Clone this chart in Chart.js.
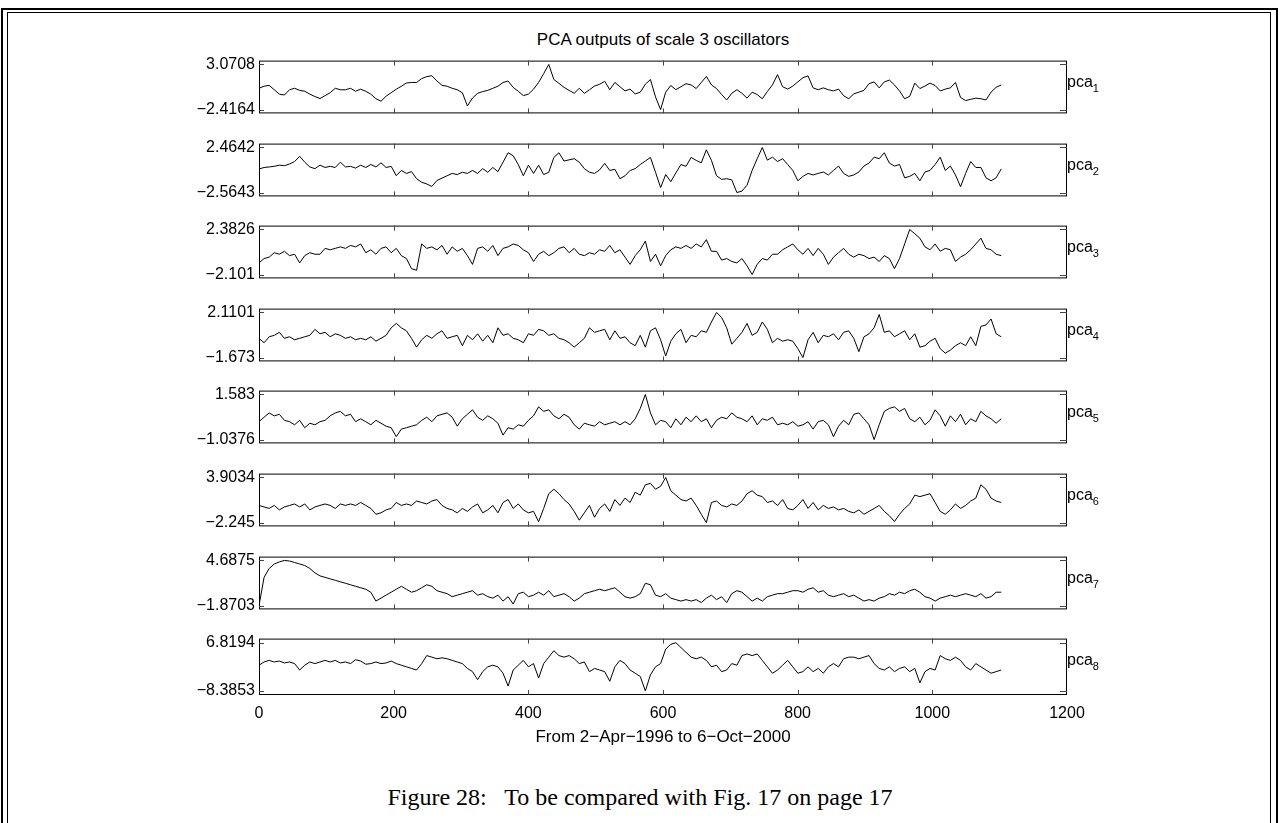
<!DOCTYPE html>
<html>
<head>
<meta charset="utf-8">
<title>PCA outputs of scale 3 oscillators</title>
<script src="https://cdn.jsdelivr.net/npm/chart.js@4.4.0/dist/chart.umd.min.js"></script>
<style>
  html, body { margin: 0; padding: 0; background: #fff; }
  body { width: 1280px; height: 823px; position: relative; overflow: hidden;
         font-family: "Liberation Sans", Arial, Helvetica, sans-serif; color: #000; }
  canvas { position: absolute; }
  .frame-outer { position: absolute; left: 1px; top: 8px; width: 1273px; height: 900px; border: 2px solid #000; }
  .frame-inner { position: absolute; left: 7px; top: 12px; width: 1262px; height: 900px; border: 1px solid #000; }
  .title { position: absolute; left: 259px; width: 808px; top: 30px; text-align: center; font-size: 17px; }
  .lab { position: absolute; left: 1067px; font-size: 16px; line-height: 16px; white-space: nowrap; }
  .lab sub { font-size: 11px; vertical-align: baseline; position: relative; top: 5px; }
  .caption { position: absolute; left: 0; width: 1280px; top: 784px; text-align: center;
             font-family: "Liberation Serif", "DejaVu Serif", serif; font-size: 24px; }
</style>
</head>
<body>
<div class="frame-outer"></div>
<div class="frame-inner"></div>
<div class="title">PCA outputs of scale 3 oscillators</div>
<div class="caption">Figure 28:&nbsp;&nbsp; To be compared with Fig. 17 on page 17</div>
<script>
// series, one value every ~7.5 trading days
const dayStep = 7.55;
const xTicks = [0, 200, 400, 600, 800, 1000, 1200];
const xLabel = 'From 2\u2212Apr\u22121996 to 6\u2212Oct\u22122000';
const panelNames = ['1', '2', '3', '4', '5', '6', '7', '8'];

const yMax = [3.0708, 2.4642, 2.3826, 2.1101, 1.583, 3.9034, 4.6875, 6.8194];
const yMin = [-2.4164, -2.5643, -2.101, -1.673, -1.0376, -2.245, -1.8703, -8.3853];
const yMaxText = ['3.0708', '2.4642', '2.3826', '2.1101', '1.583', '3.9034', '4.6875', '6.8194'];
const yMinText = ['\u22122.4164', '\u22122.5643', '\u22122.101', '\u22121.673', '\u22121.0376', '\u22122.245', '\u22121.8703', '\u22128.3853'];

const pca1 = [0.17,0.42,0.53,-0.01,-0.54,-0.65,-0.01,0.17,-0.08,-0.19,
  -0.54,-0.83,-1.08,-0.72,-0.37,0.17,-0.01,-0.01,0.17,-0.19,
  0.06,-0.19,-0.54,-1.10,-1.40,-0.79,-0.37,0.06,0.42,0.81,
  0.88,0.88,1.35,1.59,1.70,1.06,0.53,0.42,0.17,-0.01,
  -0.37,-1.98,-1.01,-0.44,-0.23,-0.08,0.17,0.42,0.88,1.06,
  0.28,-0.19,-0.72,-0.54,0.06,0.88,1.95,3.07,1.24,0.77,
  0.28,-0.08,-0.44,0.17,-0.44,-0.01,0.44,0.66,1.02,0.00,
  0.88,0.36,-0.15,0.07,-0.51,-0.30,0.66,1.24,-0.88,-2.42,
  -0.30,0.51,0.00,0.36,0.73,0.58,0.14,0.88,1.61,0.58,
  0.14,-0.59,-1.25,-0.44,0.00,-0.44,-1.03,-0.30,-0.59,-1.10,
  -0.22,0.58,1.83,0.36,0.07,0.44,0.95,1.46,1.68,0.22,
  0.00,0.22,0.00,-0.15,0.07,-0.73,-1.10,-0.51,-0.30,-0.08,
  0.73,0.95,0.22,0.95,1.17,0.58,-0.15,-1.10,-0.81,0.80,
  0.14,0.44,0.80,0.51,-0.15,0.07,0.22,0.88,-0.95,-1.32,
  -1.17,-1.03,-1.10,-1.25,-0.30,0.29,0.58];

const pca2 = [0.06,0.23,0.29,0.36,0.49,0.43,0.62,0.89,1.48,0.82,
  0.29,0.10,0.49,0.23,0.36,0.23,0.82,0.29,0.36,0.16,
  0.49,0.23,0.56,0.29,0.75,0.23,0.36,-0.69,-0.10,-0.43,
  -0.23,-1.02,-1.42,-1.61,-1.88,-1.22,-0.96,-0.69,-0.43,-0.56,
  -0.30,-0.43,-0.10,-0.43,0.10,-0.30,0.23,-0.23,0.82,1.87,
  1.54,0.56,-0.69,0.49,-0.43,0.49,-0.56,-0.30,1.35,1.87,
  0.95,1.08,1.21,0.82,0.10,-0.30,-0.43,-0.04,0.69,-0.10,
  0.03,-1.02,-0.69,-0.10,0.10,0.56,0.95,1.35,-0.30,-2.01,
  -0.56,-1.35,-0.37,0.56,0.36,1.35,1.02,0.75,2.20,1.02,
  -0.69,-1.09,-1.02,-1.15,-2.56,-2.40,-1.75,-0.10,1.21,2.46,
  1.05,1.38,0.89,1.21,0.56,-0.10,-1.25,-0.76,-0.43,-0.60,
  -0.43,-0.27,-0.60,-0.10,0.39,-0.43,-0.76,-0.60,-0.27,0.39,
  0.72,1.38,1.21,1.87,0.72,0.39,0.56,-0.92,-0.76,-0.43,
  -1.25,-0.27,-0.10,0.56,1.38,-0.10,0.39,-0.60,-1.91,-0.43,
  0.89,0.23,0.23,-0.92,-1.25,-0.92,0.06];

const pca3 = [-0.94,-0.51,-0.37,0.07,-0.08,0.21,-0.22,-0.08,-0.94,-0.22,
  0.07,-0.08,-0.08,0.50,0.36,0.50,0.65,0.50,0.79,0.65,
  0.94,0.07,0.36,-0.08,0.50,0.65,0.07,0.50,-0.22,-0.51,
  -1.52,-1.67,0.94,0.50,0.65,0.36,0.79,-0.08,0.65,0.21,
  0.50,-0.22,-1.09,0.50,0.65,0.21,0.79,-0.22,0.50,0.65,
  0.94,0.79,0.36,0.07,-0.80,-0.08,0.21,-0.22,0.07,0.50,
  0.65,0.07,0.50,-0.08,-0.22,0.07,-0.08,0.36,0.21,0.79,
  0.07,0.36,-0.37,-1.09,-0.22,0.36,1.23,-0.80,-0.08,-1.23,
  -0.22,0.36,0.65,0.50,0.79,0.50,0.94,0.65,1.37,0.21,
  0.21,-0.66,-0.51,-0.80,-0.94,-0.51,-1.23,-2.10,-1.09,-0.51,
  -0.66,-0.08,-0.08,0.36,0.65,0.94,0.36,-0.08,0.50,-0.22,
  0.50,-0.08,-1.09,-0.37,0.07,0.50,-0.08,-0.37,-0.08,-0.22,
  -0.51,-0.37,-0.80,-0.22,-0.51,-1.52,-0.51,0.94,2.38,1.95,
  1.51,0.65,0.36,0.94,0.21,0.50,0.36,-0.80,-0.37,-0.08,
  0.36,0.94,1.51,0.50,0.36,-0.08,-0.22];

const pca4 = [-0.06,-0.43,0.07,0.19,0.44,-0.06,0.07,-0.18,-0.06,0.07,
  0.19,0.69,0.32,0.44,0.07,0.32,0.19,-0.06,0.07,-0.18,
  -0.06,-0.18,0.07,-0.30,-0.06,0.19,0.82,1.19,0.82,0.57,
  -0.06,-0.80,-0.18,0.19,-0.06,0.32,0.57,-0.06,0.07,0.19,
  -0.68,0.19,-0.18,0.32,-0.30,0.19,-0.43,0.82,0.19,0.32,
  -0.06,-0.18,-0.43,0.32,0.19,0.69,0.57,0.19,0.32,-0.06,
  -0.18,-0.43,-0.80,-0.43,-0.06,0.82,0.44,0.57,0.69,-0.18,
  0.57,-0.06,0.07,-0.43,-0.68,0.19,-0.80,0.57,0.82,-0.18,
  -1.55,-0.30,0.32,0.69,-0.43,0.19,0.07,0.57,0.44,1.31,
  2.11,1.69,0.82,-0.55,-0.06,0.44,1.19,0.19,0.44,1.31,
  0.69,-0.43,-0.06,-0.30,-0.18,-0.30,-0.93,-1.67,-0.18,0.44,
  -0.43,0.19,0.07,0.32,-0.18,0.44,0.57,-0.06,-1.18,0.07,
  0.32,0.82,1.94,0.44,0.57,0.07,0.32,0.57,-0.18,0.32,
  -0.80,-0.68,-0.30,-0.06,-0.93,-1.30,-1.05,-0.68,-0.43,-0.68,
  0.07,-0.68,0.94,1.06,1.56,0.32,0.07];

const pca5 = [0.00,0.26,0.51,0.34,0.43,0.08,0.00,-0.18,0.08,-0.35,
  -0.09,-0.18,0.00,0.08,0.34,0.51,0.60,0.34,0.43,0.00,
  0.17,0.00,-0.18,0.08,-0.09,-0.26,-0.35,-0.87,-0.43,-0.35,
  -0.26,-0.18,0.08,0.26,0.00,0.34,0.43,0.51,0.26,-0.26,
  0.17,0.43,0.69,0.26,0.08,0.34,0.17,-0.09,-0.78,-0.35,
  -0.43,-0.18,-0.26,0.08,0.34,0.86,0.60,0.69,0.34,0.17,
  0.43,0.26,-0.18,-0.43,-0.09,-0.18,-0.26,0.00,-0.18,-0.09,
  0.00,-0.18,0.00,-0.18,0.17,0.77,1.58,0.51,-0.18,0.08,
  0.00,-0.35,0.17,-0.18,0.26,0.00,0.34,0.00,0.17,-0.35,
  0.08,0.26,0.17,0.51,0.26,0.17,0.00,0.34,-0.18,0.17,
  0.08,0.26,-0.18,-0.09,-0.18,0.00,-0.26,-0.18,0.00,-0.43,
  0.00,0.08,-0.18,-0.87,-0.26,0.08,-0.18,0.43,0.51,0.17,
  -0.18,-1.04,-0.18,0.60,0.77,0.86,0.60,0.77,0.17,0.00,
  0.26,-0.18,0.08,0.69,0.34,-0.26,0.34,0.00,0.43,-0.18,
  0.17,0.00,0.60,0.34,0.17,-0.09,0.17];

const pca6 = [0.09,-0.12,-0.32,0.09,-0.52,-0.12,0.09,0.29,-0.12,0.29,
  -0.52,-0.12,0.09,0.29,0.09,-0.32,0.29,0.09,0.29,0.09,
  0.49,0.09,-0.32,-1.12,-0.92,-0.52,-0.32,0.49,0.09,0.29,
  0.09,0.69,0.49,0.29,0.69,0.89,0.09,-0.32,-0.52,-0.92,
  -0.32,-0.72,-0.12,0.29,-0.92,-0.52,0.09,-0.92,0.49,0.89,
  -0.32,0.29,-0.52,-0.92,-0.72,-2.13,-0.32,1.69,2.30,1.69,
  0.89,0.29,-0.72,-1.92,-0.92,0.09,-1.52,-0.32,0.29,-0.72,
  0.89,0.09,1.09,0.49,1.89,1.49,2.90,3.10,2.30,2.70,
  3.90,2.09,1.49,0.89,0.69,1.09,0.09,-1.12,-2.25,0.49,
  0.69,0.09,-0.12,0.29,0.09,0.69,1.69,2.09,1.49,1.29,
  0.49,0.69,0.09,0.89,-0.32,-0.52,0.09,0.89,-0.32,0.49,
  -0.52,0.09,-0.32,-0.12,-0.52,-0.32,-0.72,-0.92,-0.52,-1.12,
  -0.72,-0.32,0.09,-0.72,-1.32,-2.10,-1.12,-0.32,0.29,1.49,
  1.29,1.49,1.69,0.49,-0.72,-1.12,-0.52,0.29,-0.32,0.09,
  0.69,1.09,2.90,2.30,1.09,0.69,0.49];

const pca7 = [-1.87,2.23,3.52,4.17,4.47,4.69,4.60,4.39,4.17,3.95,
  3.52,2.88,2.44,2.23,2.01,1.80,1.58,1.37,1.15,0.93,
  0.72,0.50,0.07,-1.22,-0.79,-0.36,0.07,0.50,0.93,0.50,
  0.07,0.29,0.72,1.15,0.93,0.29,0.07,-0.14,-0.58,-0.36,
  -0.14,0.07,0.29,-0.36,-0.14,-0.58,-0.79,-0.36,-1.22,-0.58,
  -1.65,-0.14,0.07,-0.58,-0.36,0.07,-0.36,0.29,-0.58,-0.36,
  -0.14,-0.58,-1.22,-0.79,-0.14,0.07,0.29,0.50,0.29,0.50,
  0.72,0.07,-0.58,-0.79,-0.58,-0.14,1.37,1.15,-0.36,-0.58,
  -0.14,-0.79,-1.01,-1.22,-1.01,-1.22,-1.01,-1.44,-0.79,-0.36,
  -1.01,-0.58,-1.44,-0.14,0.29,0.07,-0.58,-1.22,-0.79,-1.22,
  -0.58,-0.36,-0.14,-0.14,0.07,0.29,0.29,0.07,0.50,0.72,
  0.07,0.29,-0.36,-0.58,-0.36,-0.14,-0.58,-0.36,-0.79,-1.22,
  -1.01,-1.22,-0.79,-0.58,-0.14,-0.36,0.07,-0.14,0.29,0.50,
  0.07,-0.58,-0.79,-1.22,-0.79,-0.58,-0.36,-0.58,-0.36,-0.14,
  -0.36,-0.58,-0.14,-0.79,-0.58,0.07,0.07];

const pca8 = [-0.28,0.74,1.24,0.74,1.04,0.43,0.74,0.23,-1.80,-0.28,
  0.74,0.23,0.74,1.24,0.74,1.24,0.43,0.74,0.23,1.45,
  1.04,0.03,0.23,0.74,0.23,0.43,1.04,0.23,-0.28,-0.79,
  -1.29,-1.80,0.23,2.76,2.26,1.75,2.05,1.75,1.24,0.74,
  0.23,-1.29,-2.31,-4.84,-2.31,-0.79,-0.28,-0.79,-2.81,-6.87,
  -1.80,-0.28,1.24,-0.79,0.23,-4.33,0.23,2.26,4.29,2.76,
  2.26,2.76,1.75,0.23,0.74,-2.31,-1.29,-1.80,-2.31,-5.35,
  -0.79,1.24,0.23,-1.80,-2.81,-3.83,-8.39,-3.32,-0.79,0.23,
  4.79,6.31,6.82,5.30,3.78,2.26,1.75,2.26,1.24,-0.79,
  -0.28,-2.31,-1.80,0.23,-0.28,2.76,3.27,2.76,3.27,1.24,
  -0.79,-2.81,-1.80,-0.28,1.24,-0.79,-2.81,-2.31,-0.79,-2.31,
  -1.29,-2.81,-0.79,0.23,-0.79,1.75,2.26,2.26,1.75,2.26,
  2.76,0.23,-1.29,-1.80,-0.79,-2.31,-1.29,-0.79,-2.31,-1.29,
  -5.86,-2.31,-1.29,-1.80,2.76,1.75,1.24,2.26,1.24,-0.79,
  -1.80,0.23,-0.79,-1.80,-2.81,-2.31,-1.80];

const series = [pca1, pca2, pca3, pca4, pca5, pca6, pca7, pca8];

// layout: top edge of each axes box (px), boxes are 60px tall, 808px wide
const panelTops = [57, 140, 222, 305, 387, 470, 553, 635];
const canvasLeft = 150, canvasW = 980, yAxisW = 109, rightPad = 63;

Chart.defaults.font.family = '"Liberation Sans", Arial, Helvetica, sans-serif';
Chart.defaults.color = '#000';

// matlab style box with inward ticks on all four sides
const boxPlugin = {
  id: 'matlabBox',
  afterDraw(chart) {
    const { ctx, chartArea: a, scales: { x, y } } = chart;
    ctx.save();
    ctx.lineWidth = 1;
    ctx.strokeStyle = '#000';
    ctx.strokeRect(a.left + 0.5, a.top + 0.5, a.right - a.left - 1, a.bottom - a.top - 1);
    ctx.strokeStyle = '#444';
    ctx.beginPath();
    y.ticks.forEach(t => {
      const py = Math.round(y.getPixelForValue(t.value)) + 0.5;
      ctx.moveTo(a.left, py); ctx.lineTo(a.left + 5, py);
      ctx.moveTo(a.right, py); ctx.lineTo(a.right - 7, py);
    });
    x.ticks.forEach(t => {
      if (t.value <= xTicks[0] || t.value >= xTicks[xTicks.length - 1]) return;
      const px = Math.round(x.getPixelForValue(t.value)) + 0.5;
      ctx.moveTo(px, a.top); ctx.lineTo(px, a.top + 5);
      ctx.moveTo(px, a.bottom); ctx.lineTo(px, a.bottom - 5);
    });
    ctx.stroke();
    ctx.restore();
  }
};

series.forEach((vals, i) => {
  const last = i === series.length - 1;
  const h = last ? 130 : 80;
  const cv = document.createElement('canvas');
  cv.width = canvasW; cv.height = h;
  cv.style.left = canvasLeft + 'px';
  cv.style.top = (panelTops[i] - 10) + 'px';
  document.body.appendChild(cv);

  const span = yMax[i] - yMin[i];
  const pts = vals.map((v, k) => ({ x: k * dayStep, y: v }));

  new Chart(cv, {
    type: 'line',
    data: { datasets: [{ data: pts, borderColor: '#000', borderWidth: 1, pointRadius: 0, tension: 0, fill: false }] },
    options: {
      responsive: false, animation: false, devicePixelRatio: 1,
      layout: { padding: { top: 10, right: rightPad, bottom: 0, left: 0 } },
      plugins: { legend: { display: false }, tooltip: { enabled: false } },
      scales: {
        x: {
          type: 'linear', min: xTicks[0], max: xTicks[xTicks.length - 1],
          grid: { display: false, drawTicks: false }, border: { display: false },
          afterBuildTicks: s => { s.ticks = xTicks.map(v => ({ value: v })); },
          ticks: { display: last, padding: 9, maxRotation: 0, autoSkip: false, font: { size: 16 },
                   callback: v => String(v) },
          title: { display: last, text: xLabel, font: { size: 17 }, padding: { top: 0, bottom: 7 } },
          afterFit: s => { s.height = last ? 60 : 10; }
        },
        y: {
          min: yMin[i] - span * 0.085, max: yMax[i] + span * 0.085,
          grid: { display: false, drawTicks: false }, border: { display: false },
          afterBuildTicks: s => { s.ticks = [{ value: yMin[i] }, { value: yMax[i] }]; },
          ticks: {
            padding: 4, autoSkip: false, font: { size: 16 },
            callback: v => v === yMax[i] ? yMaxText[i] : (v === yMin[i] ? yMinText[i] : '')
          },
          afterFit: s => { s.width = yAxisW; }
        }
      }
    },
    plugins: [boxPlugin]
  });

  const lab = document.createElement('div');
  lab.className = 'lab';
  lab.style.top = (panelTops[i] + 17) + 'px';
  lab.innerHTML = 'pca<sub>' + panelNames[i] + '</sub>';
  document.body.appendChild(lab);
});
</script>
</body>
</html>
